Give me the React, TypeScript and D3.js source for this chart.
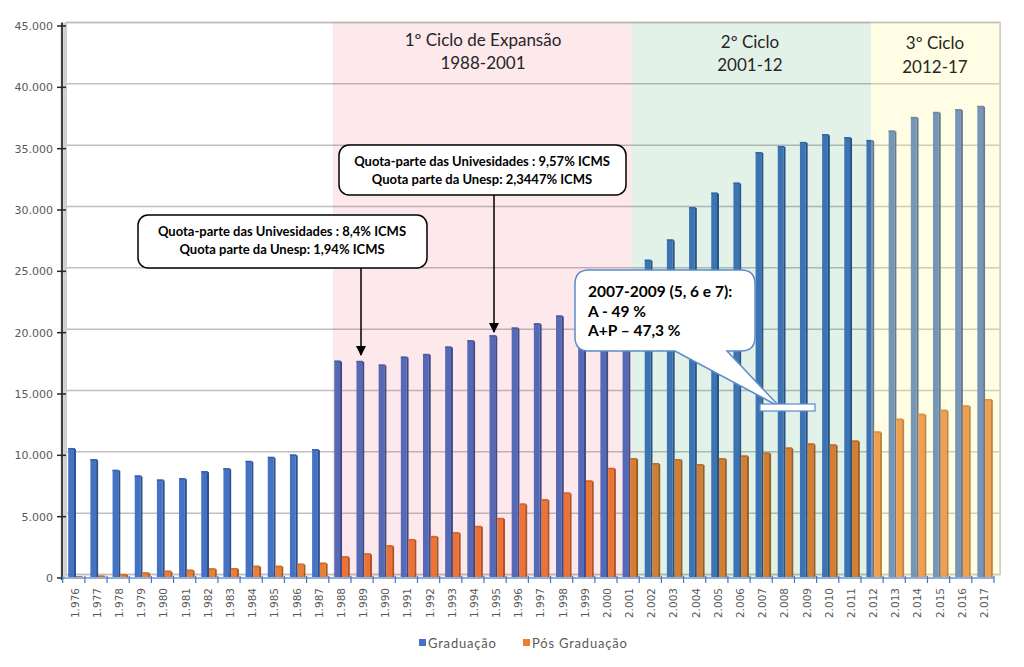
import React from "react";
import * as d3 from "d3";

const years: string[] = [
  "1.976", "1.977", "1.978", "1.979", "1.980", "1.981", "1.982", "1.983", "1.984", "1.985",
  "1.986", "1.987", "1.988", "1.989", "1.990", "1.991", "1.992", "1.993", "1.994", "1.995",
  "1.996", "1.997", "1.998", "1.999", "2.000", "2.001", "2.002", "2.003", "2.004", "2.005",
  "2.006", "2.007", "2.008", "2.009", "2.010", "2.011", "2.012", "2.013", "2.014", "2.015",
  "2.016", "2.017",
];

const graduacao: number[] = [
  10600, 9700, 8820, 8360, 8030, 8140, 8710, 8950, 9550, 9880,
  10070, 10510, 17720, 17700, 17400, 18050, 18270, 18870, 19380, 19790,
  20420, 20770, 21400, 21800, 22300, 23200, 25950, 27600, 30240, 31420,
  32230, 34730, 35220, 35550, 36180, 35940, 35710, 36480, 37590, 38000,
  38220, 38490,
];

const posGraduacao: number[] = [
  150, 200, 330, 460, 600, 680, 790, 810, 1000, 1000,
  1170, 1250, 1770, 2010, 2670, 3180, 3430, 3730, 4250, 4900,
  6070, 6430, 6970, 7950, 8980, 9770, 9370, 9690, 9280, 9770,
  9990, 10230, 10640, 10970, 10890, 11210, 11950, 12990, 13390, 13720,
  14070, 14590,
];

const seriesNames: string[] = ["Graduação", "Pós Graduação"];
const yTicks: number[] = [0, 5000, 10000, 15000, 20000, 25000, 30000, 35000, 40000, 45000];

const cycles = [
  { from: "1.988", to: "2.001", l1: "1º Ciclo de Expansão", l2: "1988-2001" },
  { from: "2.001", to: "2.012", l1: "2º Ciclo", l2: "2001-12" },
  { from: "2.012", to: "2.017", l1: "3º Ciclo", l2: "2012-17" },
];

const FONT = "Lato, 'Noto Sans', sans-serif";
const AXFONT = "'DejaVu Sans', Verdana, sans-serif";

export default function App() {
  const W = 1024;
  const H = 667;
  const x = d3.scaleBand<string>().domain(years).range([62.7, 994]).padding(0);
  const sub = d3.scaleBand<string>().domain(seriesNames).range([5.5, 21]).padding(0);
  const y = d3.scaleLinear().domain([0, 45000]).range([578, 26]);
  const bw = x.bandwidth();
  const wallL = 66;
  const wallR = 1000;
  const wallT = y(45000) - 3.5;
  const wallB = y(0) - 3.5;
  const fmt = (v: number) => d3.format(",")(v).replace(/,/g, ".");

  const pinkX0 = (x("1.988") as number) + 4;
  const pinkX1 = (x("2.001") as number) + 14.5;
  const greenX1 = (x("2.012") as number) + 10;
  const regions = [
    { x0: pinkX0, x1: pinkX1, fill: "rgb(235,25,65)", op: 0.1 },
    { x0: pinkX1, x1: greenX1, fill: "rgb(0,136,45)", op: 0.11 },
    { x0: greenX1, x1: wallR, fill: "rgb(255,248,152)", op: 0.27 },
  ];
  const labelCenters = [483, 750, 935];

  const bar = (key: string, i: number, v: number, front: string, side: string, cap: string) => {
    const bx = (x(years[i]) as number) + (sub(key) as number);
    const w = sub.bandwidth();
    const top = y(v);
    const h = y(0) - top;
    return (
      <g key={key + i}>
        <rect x={bx} y={top} width={w - 2} height={h} fill={front} />
        <rect x={bx + w - 2} y={top + 1} width={2} height={h - 1} fill={side} />
        <rect x={bx} y={top} width={w - 1} height={1.5} fill={cap} />
      </g>
    );
  };

  return (
    <svg width={W} height={H} style={{ position: "absolute", left: 0, top: 0, background: "#fff" }}>
      <rect x={wallL} y={wallT} width={wallR - wallL} height={wallB - wallT} fill="#fff" stroke="#BFBFBF" strokeWidth={1.5} />
      {yTicks.map((v) => (
        <line key={"g" + v} x1={wallL} x2={wallR} y1={y(v) - 3.5} y2={y(v) - 3.5} stroke="#BFBFBF" strokeWidth={1.5} />
      ))}
      <line x1={wallL - 1} x2={wallL - 1} y1={wallT} y2={y(0)} stroke="#D0D0D0" strokeWidth={3} />

      {graduacao.map((v, i) => bar(seriesNames[0], i, v, "#4472C4", "#2C4F8E", "#3A62AC"))}
      {posGraduacao.map((v, i) => bar(seriesNames[1], i, v, "#ED7D31", "#A85A22", "#D06A26"))}

      {regions.map((r, i) => (
        <rect key={"r" + i} x={r.x0} y={wallT} width={r.x1 - r.x0} height={y(0) - wallT} fill={r.fill} opacity={r.op} />
      ))}
      {cycles.map((c, i) => (
        <g key={"c" + i} fontFamily={FONT} fontSize={17} fill="#262626" textAnchor="middle">
          <text x={labelCenters[i]} y={46 + i * 1.5}>{c.l1}</text>
          <text x={labelCenters[i]} y={69 + i * 2}>{c.l2}</text>
        </g>
      ))}

      <line x1={62} x2={62} y1={wallT} y2={y(0) + 2} stroke="#404040" strokeWidth={2.2} />
      {yTicks.map((v) => (
        <g key={"t" + v}>
          <line x1={57} x2={66} y1={y(v)} y2={y(v)} stroke="#262626" strokeWidth={1.5} />
          <text x={53} y={y(v) + 4} textAnchor="end" fontFamily={AXFONT} fontSize={11} fill="#595959">
            {fmt(v)}
          </text>
        </g>
      ))}

      <line x1={62} x2={994} y1={y(0)} y2={y(0)} stroke="#8DB0E0" strokeWidth={2} />
      {years.map((yr, i) => (
        <line key={"xt" + i} x1={(x(yr) as number)} x2={(x(yr) as number)} y1={y(0) - 2} y2={y(0) + 5} stroke="#4472C4" strokeWidth={1.2} />
      ))}
      <line x1={994} x2={994} y1={y(0) - 2} y2={y(0) + 5} stroke="#4472C4" strokeWidth={1.2} />
      {years.map((yr) => {
        const cx = (x(yr) as number) + bw / 2 + 2;
        return (
          <text
            key={"xl" + yr}
            transform={`translate(${cx},588) rotate(-90)`}
            textAnchor="end"
            dominantBaseline="middle"
            fontFamily={AXFONT}
            fontSize={10.5}
            fill="#595959"
          >
            {yr}
          </text>
        );
      })}

      <defs>
        <marker id="arr" viewBox="0 0 10 10" refX={9} refY={5} markerWidth={7} markerHeight={7} orient="auto">
          <path d="M0,0 L10,5 L0,10 z" fill="#000" />
        </marker>
      </defs>
      <rect x={138} y={215} width={289} height={53} rx={10} fill="#fff" stroke="#000" strokeWidth={1.5} />
      <g fontFamily={FONT} fontWeight="bold" fontSize={13} fill="#000" textAnchor="middle">
        <text x={282} y={236}>Quota-parte  das Univesidades  : 8,4% ICMS</text>
        <text x={282} y={254}>Quota parte da Unesp: 1,94% ICMS</text>
      </g>
      <line x1={361} x2={361} y1={268} y2={355} stroke="#000" strokeWidth={1.5} markerEnd="url(#arr)" />

      <rect x={339} y={145} width={287} height={50} rx={10} fill="#fff" stroke="#000" strokeWidth={1.5} />
      <g fontFamily={FONT} fontWeight="bold" fontSize={13} fill="#000" textAnchor="middle">
        <text x={482} y={166}>Quota-parte  das Univesidades  : 9,57% ICMS</text>
        <text x={482} y={184}>Quota parte da Unesp: 2,3447% ICMS</text>
      </g>
      <line x1={494} x2={494} y1={195} y2={332} stroke="#000" strokeWidth={1.5} markerEnd="url(#arr)" />

      <path
        d="M589,270 H741 Q755,270 755,284 V337 Q755,351 741,351 H727 L780,407 L675,351 H589 Q575,351 575,337 V284 Q575,270 589,270 Z"
        fill="#fff"
        stroke="#5B8BC9"
        strokeWidth={1.5}
      />
      <rect x={760} y={404} width={55} height={7} fill="#fff" stroke="#5B8BC9" strokeWidth={1.2} />
      <g fontFamily={FONT} fontWeight="bold" fontSize={15.5} fill="#000">
        <text x={588} y={297}>2007-2009 (5, 6 e 7):</text>
        <text x={588} y={317}>A - 49 %</text>
        <text x={588} y={336}>A+P – 47,3 %</text>
      </g>

      <g fontFamily={FONT} fontSize={13} fill="#595959" letterSpacing={0.8}>
        <rect x={419} y={639} width={7} height={7} fill="#4472C4" />
        <text x={428} y={648}>{seriesNames[0]}</text>
        <rect x={523} y={639} width={7} height={7} fill="#ED7D31" />
        <text x={532} y={648}>{seriesNames[1]}</text>
      </g>
    </svg>
  );
}
